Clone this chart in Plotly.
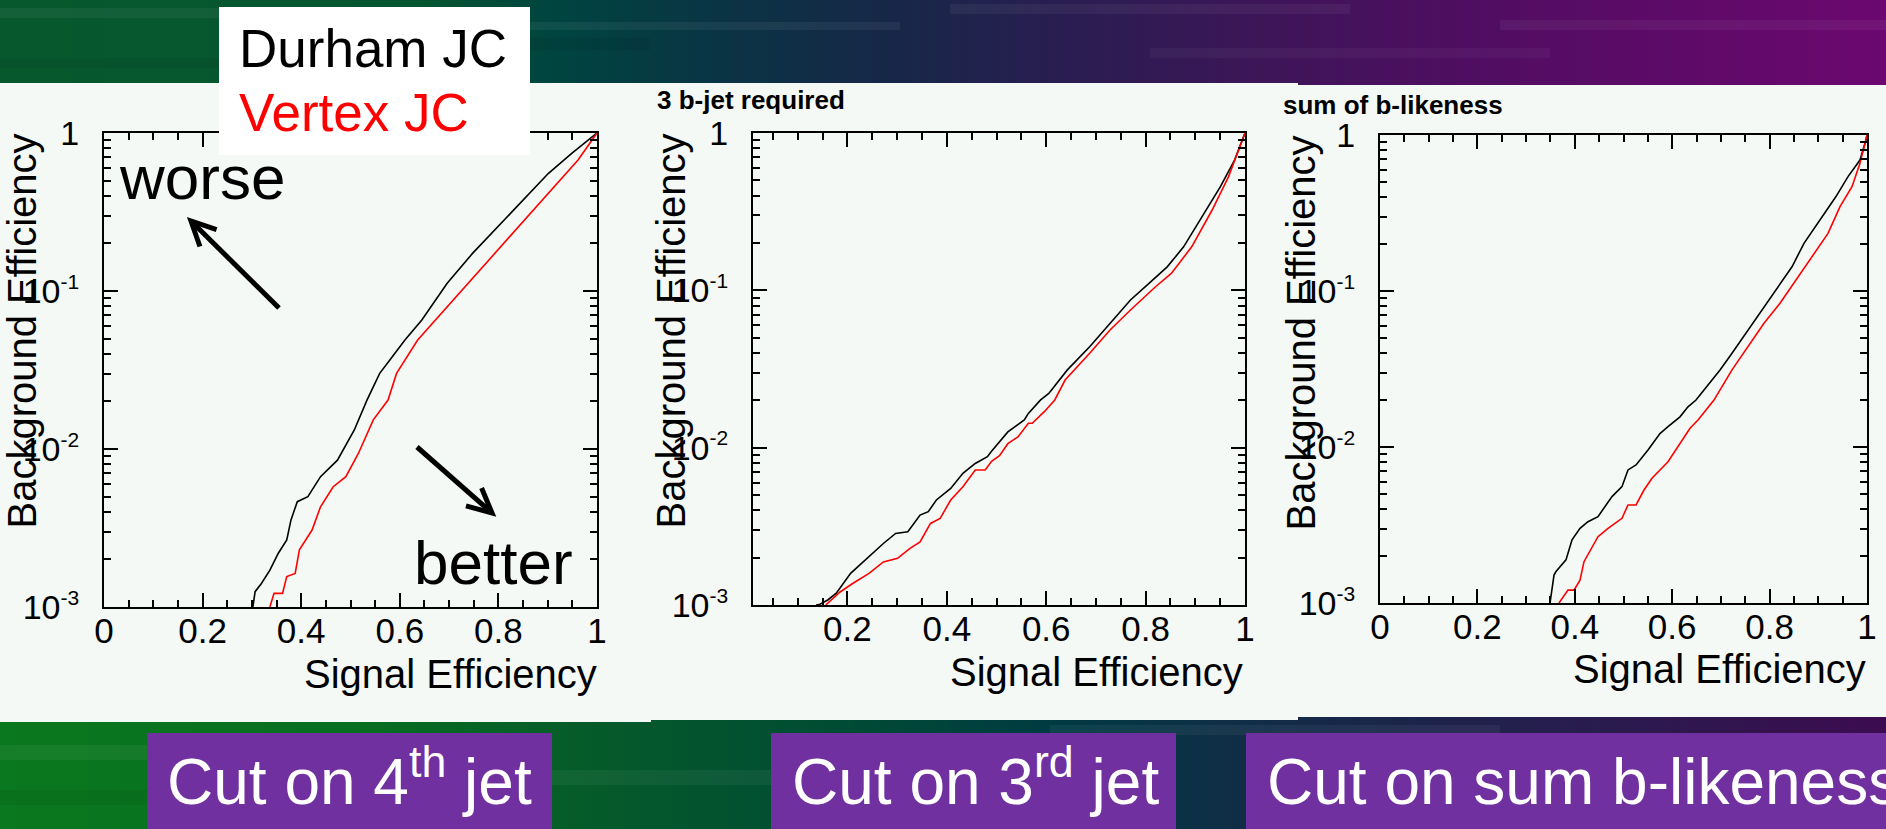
import math
import plotly.graph_objects as go

W, H = 1886, 829

# ---------------- data ----------------
series_names = ["Durham JC", "Vertex JC"]
series_colors = ["#000000", "#ff0000"]

panel_titles = ["", "3 b-jet required", "sum of b-likeness"]
panel_labels = ["Cut on 4<sup>th</sup> jet", "Cut on 3<sup>rd</sup> jet", "Cut on sum b-likeness"]

x_title = "Signal Efficiency"
y_title = "Background Efficiency"

y_tick_vals = [0.001, 0.01, 0.1, 1]
y_tick_exps = ["-3", "-2", "-1", None]

# Panel 1: cut on 4th jet
p1_durham_x = [0.302, 0.3065, 0.3193, 0.3365, 0.3536, 0.3707, 0.3793, 0.3921, 0.4135, 0.4392,
               0.4735, 0.5077, 0.5334, 0.5592, 0.5848, 0.6104, 0.6447, 0.6961, 0.7475, 0.7988,
               0.8503, 0.9016, 0.9487, 0.9957, 1.0]
p1_durham_y = [0.0010, 0.00125, 0.00141, 0.00171, 0.00219, 0.00266, 0.00356, 0.00464, 0.00499, 0.00668,
               0.0085, 0.0132, 0.0204, 0.0301, 0.0384, 0.049, 0.0655, 0.112, 0.173, 0.255,
               0.377, 0.556, 0.744, 0.97, 1.0]
p1_vertex_x = [0.3365, 0.3449, 0.3621, 0.3707, 0.3878, 0.3963, 0.4220, 0.4392, 0.4649, 0.4906,
               0.5162, 0.5462, 0.5761, 0.5934, 0.6362, 0.6961, 0.7560, 0.8159, 0.8757, 0.9187,
               0.9615, 1.0]
p1_vertex_y = [0.0010, 0.00122, 0.00122, 0.00156, 0.00163, 0.0023, 0.00307, 0.00431, 0.00577, 0.00668,
               0.0094, 0.0153, 0.0204, 0.0301, 0.049, 0.0796, 0.129, 0.210, 0.342, 0.481,
               0.675, 1.0]

# Panel 2: cut on 3rd jet (3 b-jet required)
p2_durham_x = [0.137, 0.1447, 0.1612, 0.1776, 0.2064, 0.2352, 0.2723, 0.2969, 0.3215, 0.3462,
               0.3627, 0.3790, 0.4078, 0.4324, 0.4572, 0.4817, 0.4900, 0.5228, 0.5559, 0.5641,
               0.5887, 0.6052, 0.6421, 0.6874, 0.7284, 0.7696, 0.8107, 0.8435, 0.8765, 0.9176,
               0.9505, 0.979, 1.0]
p2_durham_y = [0.0010, 0.00101, 0.00108, 0.00119, 0.00159, 0.00193, 0.00246, 0.00285, 0.00292, 0.00373,
               0.00392, 0.00465, 0.00551, 0.00687, 0.00794, 0.00876, 0.0095, 0.0126, 0.0150, 0.0165,
               0.0201, 0.0221, 0.0311, 0.0438, 0.0617, 0.0868, 0.1135, 0.141, 0.189, 0.309,
               0.456, 0.673, 1.0]
p2_vertex_x = [0.1564, 0.1852, 0.2105, 0.2435, 0.2723, 0.3009, 0.3259, 0.3462, 0.3671, 0.3866,
               0.4078, 0.4324, 0.4572, 0.4772, 0.4900, 0.5060, 0.5228, 0.5431, 0.5641, 0.5719,
               0.5966, 0.6172, 0.6380, 0.6874, 0.7284, 0.7696, 0.8194, 0.8517, 0.8928, 0.9339,
               0.9669, 0.9955, 1.0]
p2_vertex_y = [0.0010, 0.00121, 0.00137, 0.00159, 0.00188, 0.00198, 0.00229, 0.00252, 0.0033, 0.00355,
               0.00465, 0.00565, 0.00721, 0.00721, 0.0082, 0.0089, 0.0106, 0.0117, 0.0143, 0.0143,
               0.0170, 0.0201, 0.0269, 0.0398, 0.056, 0.075, 0.105, 0.128, 0.189, 0.324,
               0.528, 0.903, 1.0]

# Panel 3: cut on sum of b-likeness
p3_durham_x = [0.3491, 0.3573, 0.3614, 0.3819, 0.3943, 0.4107, 0.4271, 0.4476, 0.4764, 0.4969,
               0.5092, 0.5257, 0.5503, 0.5749, 0.5914, 0.6160, 0.6324, 0.6489, 0.6653, 0.6982,
               0.7228, 0.7556, 0.7885, 0.8214, 0.8460, 0.8706, 0.9035, 0.9363, 0.961, 0.9856,
               0.998, 1.0]
p3_durham_y = [0.0010, 0.00151, 0.00159, 0.00189, 0.00254, 0.00301, 0.00332, 0.00358, 0.00481, 0.00557,
               0.00713, 0.00767, 0.00957, 0.0122, 0.0135, 0.0156, 0.0181, 0.020, 0.0232, 0.0312,
               0.0399, 0.0562, 0.0795, 0.112, 0.143, 0.202, 0.285, 0.403, 0.541, 0.691,
               0.929, 1.0]
p3_vertex_x = [0.3676, 0.3860, 0.3984, 0.4107, 0.4189, 0.4476, 0.4682, 0.4969, 0.5092, 0.5257,
               0.5421, 0.5585, 0.5914, 0.6366, 0.6530, 0.6858, 0.7228, 0.7556, 0.7885, 0.8214,
               0.8542, 0.8871, 0.9199, 0.9446, 0.9692, 0.9856, 1.0]
p3_vertex_y = [0.0010, 0.00121, 0.00121, 0.0014, 0.00184, 0.00266, 0.00301, 0.00349, 0.00425, 0.00425,
               0.0053, 0.00631, 0.00805, 0.0132, 0.0149, 0.020, 0.0312, 0.044, 0.0621, 0.0834,
               0.118, 0.166, 0.234, 0.347, 0.466, 0.658, 1.0]

panel_data = [
    ((p1_durham_x, p1_durham_y), (p1_vertex_x, p1_vertex_y)),
    ((p2_durham_x, p2_durham_y), (p2_vertex_x, p2_vertex_y)),
    ((p3_durham_x, p3_durham_y), (p3_vertex_x, p3_vertex_y)),
]
panel_xranges = [[0, 1], [0.01, 1], [0, 1]]

# ---------------- layout geometry (pixels) ----------------
frames = [  # left, right, top, bottom
    (104, 597, 133, 607),
    (753, 1245, 133, 605),
    (1380, 1867, 135, 603),
]
FONT = "Liberation Sans, Arial, sans-serif"
PANEL_BG = "#f4f9f6"

y_tick_text = ["10<sup><span style='font-size:21px'>%s</span></sup>" % e if e else "1"
               for e in y_tick_exps]


def fx(x):
    return x / W


def fy(y):
    return 1 - y / H


def hexrgb(c):
    return "rgb(%d,%d,%d)" % c


def interp(stops, x):
    for (x0, c0), (x1, c1) in zip(stops[:-1], stops[1:]):
        if x0 <= x <= x1:
            t = (x - x0) / (x1 - x0)
            return tuple(int(round(a + (b - a) * t)) for a, b in zip(c0, c1))
    return stops[-1][1]


fig = go.Figure()
shapes = []

# banner gradients
top_stops = [(0, (8, 88, 46)), (420, (5, 85, 48)), (560, (0, 68, 64)), (720, (10, 52, 68)),
             (880, (22, 40, 72)), (1050, (40, 30, 80)), (1250, (60, 22, 88)), (1450, (78, 14, 96)),
             (1700, (95, 10, 105)), (1886, (108, 8, 112))]
bot_stops = [(0, (10, 120, 30)), (350, (8, 110, 32)), (600, (5, 90, 42)), (850, (0, 75, 52)),
             (1050, (0, 58, 66)), (1300, (20, 42, 72)), (1550, (38, 30, 78)), (1886, (60, 12, 80))]
step = 8
for x0 in range(0, W, step):
    for stops, y0, y1 in ((top_stops, 0, 90), (bot_stops, 712, H)):
        shapes.append(dict(type="rect", xref="paper", yref="paper", layer="below",
                           x0=fx(x0), x1=fx(min(W, x0 + step + 1)), y0=fy(y1), y1=fy(y0),
                           line=dict(width=0), fillcolor=hexrgb(interp(stops, x0 + step / 2))))

# subtle horizontal streaks in the banners
streaks = [(0, 250, 8, 18, 0.05), (490, 900, 22, 30, 0.06), (250, 650, 38, 50, -0.06),
           (0, 240, 58, 68, -0.05), (950, 1350, 4, 14, 0.05), (1150, 1550, 48, 58, 0.04),
           (1500, 1886, 20, 30, 0.05), (0, 250, 745, 760, 0.05), (0, 340, 790, 805, -0.05),
           (370, 820, 770, 785, 0.05), (1050, 1500, 725, 735, 0.05), (1500, 1886, 800, 815, 0.05)]
for a, b, y0, y1, op in streaks:
    shapes.append(dict(type="rect", xref="paper", yref="paper", layer="below",
                       x0=fx(a), x1=fx(b), y0=fy(y1), y1=fy(y0), line=dict(width=0),
                       fillcolor="white" if op > 0 else "black", opacity=abs(op)))

# panel backgrounds
for x0, x1, y0, y1 in ((0, 651, 83, 722), (651, 1298, 83, 720), (1298, W, 85, 717)):
    shapes.append(dict(type="rect", xref="paper", yref="paper", layer="below",
                       x0=fx(x0), x1=fx(x1), y0=fy(y1), y1=fy(y0), line=dict(width=0),
                       fillcolor=PANEL_BG))

# purple label boxes
label_boxes = [(147, 552), (771, 1176), (1246, W)]
for x0, x1 in label_boxes:
    shapes.append(dict(type="rect", xref="paper", yref="paper", layer="above",
                       x0=fx(x0), x1=fx(x1), y0=fy(H), y1=fy(733), line=dict(width=0),
                       fillcolor="#7030a0"))

# legend box
shapes.append(dict(type="rect", xref="paper", yref="paper", layer="above",
                   x0=fx(219), x1=fx(530), y0=fy(155), y1=fy(7), line=dict(width=0),
                   fillcolor="white"))


# arrows (worse / better)
def arrow(tail, tip, length=27, half_angle=26):
    ang = math.atan2(tail[1] - tip[1], tail[0] - tip[0])
    pts = []
    for s in (-1, 1):
        a = ang + s * math.radians(half_angle)
        pts.append((tip[0] + length * math.cos(a), tip[1] + length * math.sin(a)))
    shaft = "M %f %f L %f %f" % (fx(tail[0]), fy(tail[1]), fx(tip[0]), fy(tip[1]))
    head = "M %f %f L %f %f L %f %f" % (fx(pts[0][0]), fy(pts[0][1]), fx(tip[0]), fy(tip[1]),
                                        fx(pts[1][0]), fy(pts[1][1]))
    return [dict(type="path", xref="paper", yref="paper", layer="above", path=p,
                 line=dict(color="black", width=5)) for p in (shaft, head)]


shapes += arrow((279, 308), (191, 221))
shapes += arrow((417, 447), (492, 513))

annotations = []
minor_y = [k * 10 ** e for e in (-3, -2, -1) for k in range(2, 10)]

for i, ((l, r, t, b), data, xr) in enumerate(zip(frames, panel_data, panel_xranges)):
    n = "" if i == 0 else str(i + 1)
    xa, ya = "x" + n, "y" + n
    for (xs, ys), name, col in zip(data, series_names, series_colors):
        fig.add_trace(go.Scatter(x=xs, y=ys, mode="lines", name=name, xaxis=xa, yaxis=ya,
                                 line=dict(color=col, width=1.6), showlegend=False))
    common = dict(showline=True, linecolor="black", linewidth=2, mirror="ticks",
                  ticks="inside", ticklen=14, tickwidth=2, tickcolor="black",
                  showgrid=False, zeroline=False)
    fig.layout["xaxis" + n] = dict(
        common, domain=[fx(l), fx(r)], anchor=ya, range=xr, tick0=0, dtick=0.2,
        ticklabelstandoff=-8, tickfont=dict(family=FONT, size=35, color="black"),
        minor=dict(tick0=0, dtick=0.05, ticks="inside", ticklen=7, tickwidth=2, tickcolor="black"))
    fig.layout["yaxis" + n] = dict(
        common, domain=[fy(b), fy(t)], anchor=xa, type="log", range=[-3, 0],
        tickmode="array", tickvals=y_tick_vals, ticktext=y_tick_text, ticklabelstandoff=16,
        tickfont=dict(family=FONT, size=34, color="black"),
        minor=dict(tickmode="array", tickvals=minor_y, ticks="inside", ticklen=7, tickwidth=2,
                   tickcolor="black"))

# axis titles
x_title_pos = [(598, 697), (1244, 695), (1867, 692)]
y_title_x = [21, 670, 1300]
for (l, r, t, b), (xt, yb), yx in zip(frames, x_title_pos, y_title_x):
    annotations.append(dict(text=x_title, xref="paper", yref="paper", x=fx(xt), y=fy(yb),
                            xanchor="right", yanchor="bottom", showarrow=False, borderpad=0,
                            font=dict(family=FONT, size=40, color="black")))
    annotations.append(dict(text=y_title, xref="paper", yref="paper", x=fx(yx), y=fy(t),
                            xanchor="center", yanchor="top", textangle=-90, showarrow=False,
                            borderpad=0, font=dict(family=FONT, size=40, color="black")))

# panel titles
for txt, (x, yb) in zip(panel_titles[1:], [(656, 116), (1282, 121)]):
    annotations.append(dict(text="<b>%s</b>" % txt, xref="paper", yref="paper", x=fx(x), y=fy(yb),
                            xanchor="left", yanchor="bottom", showarrow=False, borderpad=0,
                            font=dict(family=FONT, size=26, color="black")))

# legend entries
for name, col, yb in zip(series_names, series_colors, (79, 143)):
    annotations.append(dict(text=name, xref="paper", yref="paper", x=fx(238), y=fy(yb),
                            xanchor="left", yanchor="bottom", showarrow=False, borderpad=0,
                            font=dict(family=FONT, size=53, color=col)))

# worse / better
for txt, x, yb in (("worse", 118, 213), ("better", 413, 598)):
    annotations.append(dict(text=txt, xref="paper", yref="paper", x=fx(x), y=fy(yb),
                            xanchor="left", yanchor="bottom", showarrow=False, borderpad=0,
                            font=dict(family=FONT, size=62, color="black")))

# bottom labels
for txt, x in zip(panel_labels, (166, 791, 1266)):
    annotations.append(dict(text=txt, xref="paper", yref="paper", x=fx(x), y=fy(819),
                            xanchor="left", yanchor="bottom", showarrow=False, borderpad=0,
                            font=dict(family=FONT, size=64, color="white")))

fig.update_layout(width=W, height=H,
                  margin=dict(l=0, r=0, t=0, b=0, pad=0, autoexpand=False),
                  paper_bgcolor=PANEL_BG, plot_bgcolor="rgba(0,0,0,0)",
                  shapes=shapes, annotations=annotations, showlegend=False)

fig.write_html("out.html", config={"displayModeBar": False},
               post_script="document.body.style.margin='0';document.body.style.padding='0';"
                           "document.documentElement.style.overflow='hidden';"
                           "document.body.style.overflow='hidden';")
